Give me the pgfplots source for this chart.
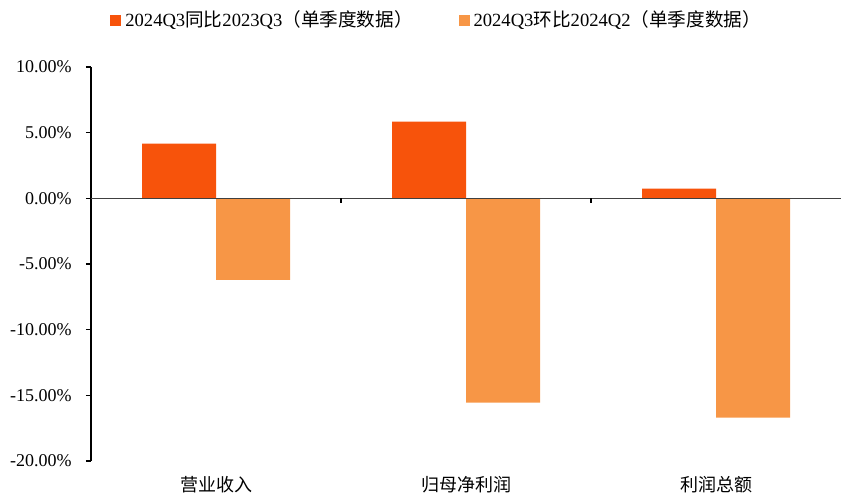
\documentclass[border=0pt]{standalone}
\usepackage{pgfplots}
\pgfplotsset{compat=1.18}
\usepackage{fontspec}
\setmainfont{Liberation Serif}
\newfontfamily\cjk{Noto Sans CJK SC}
\definecolor{cA}{HTML}{F7530B}
\definecolor{cB}{HTML}{F79646}
\begin{document}
\fontsize{9bp}{11bp}\selectfont
\begin{tikzpicture}
\begin{axis}[
 scale only axis, width=375bp, height=197bp,
 xmin=-0.5, xmax=2.5, ymin=-20, ymax=10,
 ybar=0pt, bar width=37bp,
 axis y line=left, axis x line=bottom,
 x axis line style={draw=none},
 y axis line style={black, line width=0.6bp, -},
 xtick={0,1,2},
 xticklabels={{\cjk 营业收入},{\cjk 归母净利润},{\cjk 利润总额}},
 x tick style={draw=none},
 ytick={-20,-15,...,10},
 y tick style={black, line width=0.6bp},
 tick align=outside, major tick length=2.5bp,
 yticklabel={\pgfmathprintnumber[fixed,fixed zerofill,precision=2]{\tick}\%},
 /pgf/number format/assume math mode=true,
 xticklabel style={anchor=center, yshift=-9.5bp, font=\fontsize{9bp}{11bp}\selectfont},
 yticklabel style={anchor=east, inner sep=0pt, xshift=-7bp, font=\fontsize{9bp}{11bp}\selectfont},
 clip=false,
 legend columns=2,
 legend style={draw=none, fill=none, at={(axis description cs:0.0253,1.119)}, anchor=west,
   inner sep=0pt, font=\fontsize{9.3bp}{11bp}\selectfont,
   /tikz/every even column/.append style={column sep=21bp}},
]
\addplot[fill=cA, draw=none, legend image code/.code={\fill[cA] (0,-2.75bp) rectangle (5.5bp,2.75bp);}]
  coordinates {(0,4.17) (1,5.84) (2,0.74)};
\addlegendentry{2024Q3{\cjk 同比}2023Q3{\cjk （单季度数据）}}
\addplot[fill=cB, draw=none, legend image code/.code={\fill[cB] (0,-2.75bp) rectangle (5.5bp,2.75bp);}]
  coordinates {(0,-6.20) (1,-15.56) (2,-16.70)};
\addlegendentry{2024Q3{\cjk 环比}2024Q2{\cjk （单季度数据）}}
\draw[black!75, line width=0.7bp] (axis cs:-0.5,0) -- (axis cs:2.5,0);
\draw[black, line width=0.6bp] (axis cs:0.5,0) -- ([yshift=-2.5bp]axis cs:0.5,0);
\draw[black, line width=0.6bp] (axis cs:1.5,0) -- ([yshift=-2.5bp]axis cs:1.5,0);
\end{axis}
\pgfresetboundingbox
\path[use as bounding box] ([shift={(-45.5bp,-16.5bp)}]current axis.south west) rectangle ([shift={(1bp,33.5bp)}]current axis.north east);
\end{tikzpicture}
\end{document}
